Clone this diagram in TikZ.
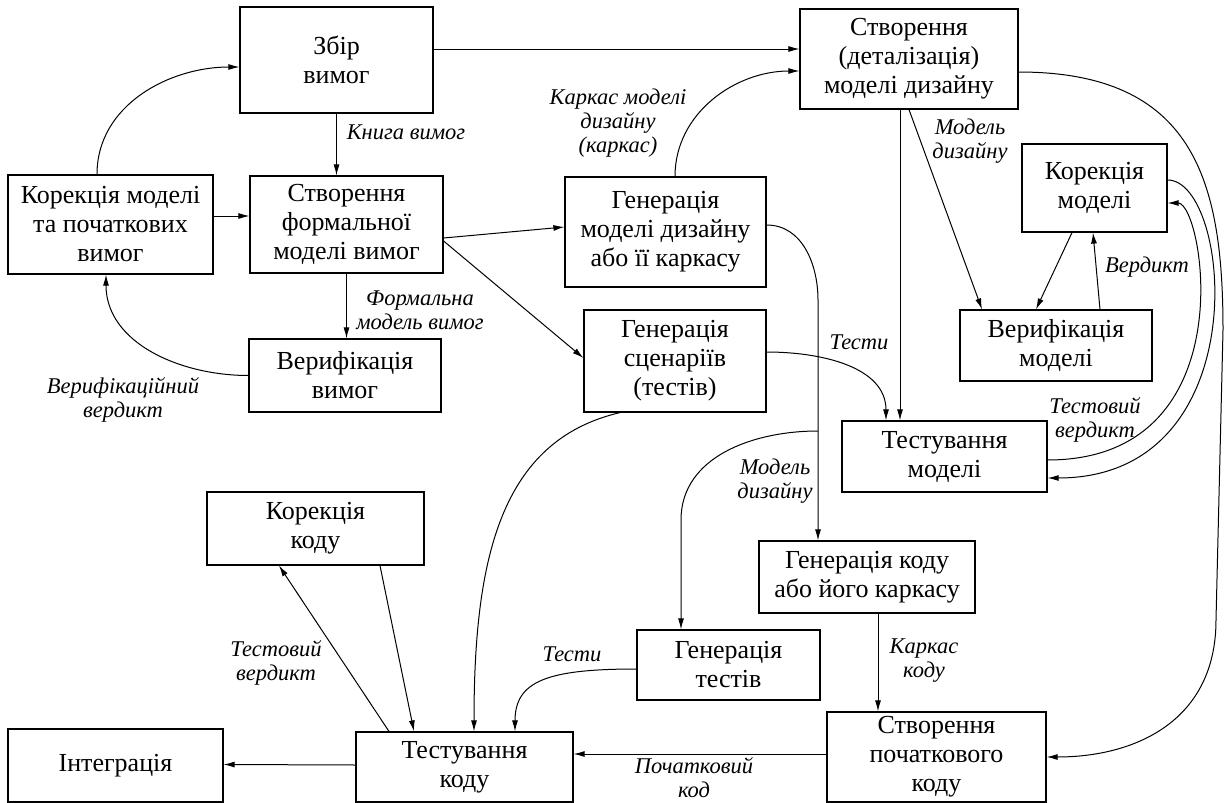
\documentclass[tikz,border=0pt]{standalone}
\usepackage{fontspec}
\setmainfont{Liberation Serif}
\usepackage{tikz}
\usetikzlibrary{arrows.meta, calc}

\begin{document}
\begin{tikzpicture}[
        x=1pt, y=1pt,
        box/.style={rectangle, draw, line width=1.2pt, align=center, inner sep=0pt, font=\rmfamily\fontsize{26}{29}\selectfont},
        lbl/.style={align=center, inner sep=0pt, font=\rmfamily\fontsize{22.5}{24}\selectfont\itshape},
        arr/.style={-{Latex[length=11pt, width=6pt]}, line width=1pt}
    ]
        \useasboundingbox (0,0) rectangle (1227,-803);

        % Requirements part
        \node[box, minimum width=193, minimum height=106] (Zbir) at (336.5,-60) {Збір\\вимог};
        \node[box, minimum width=205, minimum height=99] (KorVym) at (110.5,-224.5) {Корекція моделі\\та початкових\\вимог};
        \node[box, minimum width=193, minimum height=97] (FormM) at (346.5,-224.5) {Створення\\формальної\\моделі вимог};
        \node[box, minimum width=192, minimum height=73] (VerVym) at (345,-375.5) {Верифікація\\вимог};

        % Design model part
        \node[box, minimum width=201, minimum height=110] (GenMod) at (665.5,-232) {Генерація\\моделі дизайну\\або її каркасу};
        \node[box, minimum width=182, minimum height=102] (GenScn) at (675,-361) {Генерація\\сценаріїв\\(тестів)};
        \node[box, minimum width=218, minimum height=100] (StvDiz) at (909,-59) {Створення\\(деталізація)\\моделі дизайну};
        \node[box, minimum width=145, minimum height=88] (KorMod) at (1094.5,-188) {Корекція\\моделі};
        \node[box, minimum width=192, minimum height=71] (VerMod) at (1056,-345.5) {Верифікація\\моделі};
        \node[box, minimum width=205, minimum height=71] (TstMod) at (944.5,-456.5) {Тестування\\моделі};

        % Code part
        \node[box, minimum width=217, minimum height=73] (KorKod) at (315.5,-528.5) {Корекція\\коду};
        \node[box, minimum width=216, minimum height=72] (GenKod) at (867,-577) {Генерація коду\\або його каркасу};
        \node[box, minimum width=183, minimum height=70] (GenTst) at (728.5,-665) {Генерація\\тестів};
        \node[box, minimum width=215, minimum height=73] (Integr) at (115.5,-765.5) {Інтеграція};
        \node[box, minimum width=217, minimum height=70] (TstKod) at (464.5,-767) {Тестування\\коду};
        \node[box, minimum width=219, minimum height=90] (StvKod) at (936.5,-757) {Створення\\початкового\\коду};

        % Labels
        \node[lbl] (LKnyha) at (406,-132) {Книга вимог};
        \node[lbl] (LFormM) at (420,-310) {Формальна\\модель вимог};
        \node[lbl] (LVerVym) at (123,-400) {Верифікаційний\\вердикт};
        \node[lbl] (LKarMod) at (618,-123) {Каркас моделі\\дизайну\\(каркас)};
        \node[lbl] (LTest1) at (859,-342) {Тести};
        \node[lbl] (LModDiz1) at (970,-141) {Модель\\дизайну};
        \node[lbl] (LVerd) at (1147,-267) {Вердикт};
        \node[lbl] (LTVerd1) at (1095,-420) {Тестовий\\вердикт};
        \node[lbl] (LModDiz2) at (775,-481) {Модель\\дизайну};
        \node[lbl] (LKarKod) at (924,-661) {Каркас\\коду};
        \node[lbl] (LPochKod) at (694,-778) {Початковий\\код};
        \node[lbl] (LTest2) at (572,-654) {Тести};
        \node[lbl] (LTVerd2) at (276,-663) {Тестовий\\вердикт};

        % Requirements loop
        \draw[arr] ([xshift=-13.5pt]KorVym.north) to[out=90, in=180] ([yshift=-7pt]Zbir.west);
        \draw[arr] ([yshift=8.5pt]KorVym.east) -- ([yshift=8.5pt]FormM.west);
        \draw[arr] (Zbir.south) -- (Zbir.south |- FormM.north);
        \draw[arr] (FormM.south) -- (FormM.south |- VerVym.north);
        \draw[arr] (VerVym.west) to[out=180, in=-90] ([xshift=-4.5pt]KorVym.south);

        % To the design model
        \draw[arr] ([yshift=11pt]Zbir.east) -- ([yshift=11pt]Zbir.east -| StvDiz.west);
        \draw[arr] ([xshift=9.5pt]GenMod.north) to[out=90, in=180] ([yshift=-12pt]StvDiz.west);
        \draw[arr] ([yshift=-13.5pt]FormM.east) -- ([yshift=5pt]GenMod.west);
        \draw[arr] ([yshift=-16.5pt]FormM.east) -- ([yshift=3pt]GenScn.west);

        % Design model to code
        \coordinate (Split) at (818,-431);
        \draw[arr] ([yshift=7pt]GenMod.east) to[out=0, in=90] (818,-300) -- ([xshift=-49pt]GenKod.north);
        \draw[arr] (Split) to[out=180, in=90] (681,-520) -- ([xshift=-47.5pt]GenTst.north);
        \draw[arr] ([yshift=9pt]GenScn.east) to[out=0, in=90] ([xshift=-58.5pt]TstMod.north);
        \draw[arr] ([xshift=-9pt]StvDiz.south) -- ([xshift=-9pt]StvDiz.south |- TstMod.north);

        % Model verification loop
        \draw[arr] (StvDiz.south) -- ([xshift=-74pt]VerMod.north);
        \draw[arr] ([xshift=-22.5pt]KorMod.south) -- ([xshift=-20pt]VerMod.north);
        \draw[arr] ([xshift=44pt]VerMod.north) -- ([xshift=-1.5pt]KorMod.south);
        \draw[arr] ([yshift=8pt]KorMod.east) .. controls +(64,0) and +(212,0) .. ([yshift=-21.5pt]TstMod.east);
        \draw[arr] ([yshift=-3.5pt]TstMod.east) .. controls +(200,0) and +(36,0) .. ([yshift=-15pt]KorMod.east);
        \draw[arr] ([yshift=-13pt]StvDiz.east) .. controls +(175,0) and +(0,150) .. (1223,-330)
            -- (1216,-620) .. controls +(0,-100) and +(90,0) .. (StvKod.east);

        % Code
        \draw[arr] ([xshift=11pt]GenKod.south) -- ([xshift=11pt]GenKod.south |- StvKod.north);
        \draw[arr] ([yshift=3pt]StvKod.west) -- ([yshift=3pt]StvKod.west -| TstKod.east);
        \draw[arr] ([yshift=-4pt]GenTst.west) .. controls +(-90,0) and +(0,50) .. ([xshift=50.5pt]TstKod.north);
        \draw[arr] ([xshift=-55pt]GenScn.south) .. controls +(-120,-28) and +(0,172) .. ([xshift=9.5pt]TstKod.north);
        \draw[arr] ([xshift=-75.5pt]TstKod.north) -- ([xshift=-36.5pt]KorKod.south);
        \draw[arr] ([xshift=64.5pt]KorKod.south) -- ([xshift=-50.5pt]TstKod.north);
        \draw[arr] ([yshift=2pt]TstKod.west) -- ([yshift=1pt]Integr.east);
    \end{tikzpicture}
\end{document}
